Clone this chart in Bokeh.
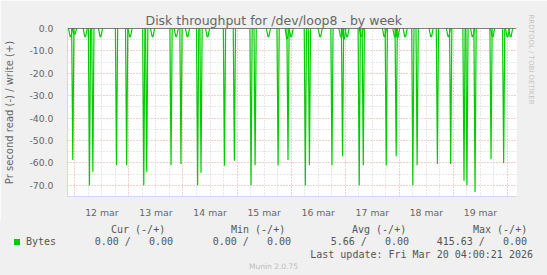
import math
from bokeh.plotting import figure
from bokeh.layouts import column
from bokeh.models import (FixedTicker, Grid, Span, PrintfTickFormatter, Range1d,
                          Title, Div)
from bokeh.embed import file_html
from bokeh.resources import INLINE

# ---------------- data (hours since 12 mar 00:00) ----------------
title = "Disk throughput for /dev/loop8 - by week"
y_label = "Pr second read (-) / write (+)"
day_labels = ["12 mar", "13 mar", "14 mar", "15 mar", "16 mar", "17 mar", "18 mar", "19 mar"]
day_label_hours = [12, 36, 60, 84, 108, 132, 156, 180]
y_ticks = [0, -10, -20, -30, -40, -50, -60, -70]
y_minor = [-5, -15, -25, -35, -45, -55, -65]

# large read spikes
spike_hours = [-0.9, 6.5, 8.0, 18.5, 23.0, 30.6, 31.9, 42.7, 47.1, 54.5, 56.0,
               66.4, 70.8, 78.2, 80.0, 90.2, 94.6, 102.3, 104.1, 114.1, 118.8,
               126.2, 128.0, 138.2, 142.6, 150.0, 151.9, 160.9, 166.8, 172.7,
               174.0, 177.6, 184.7, 190.3]
spike_values = [-58.7, -70.0, -64.0, -61.0, -61.0, -70.0, -64.0, -61.0, -60.5,
                -70.0, -64.4, -61.3, -59.0, -70.0, -61.0, -61.0, -58.7, -70.0,
                -61.0, -61.0, -57.0, -70.0, -61.0, -61.0, -57.0, -70.0, -61.0,
                -60.5, -60.5, -68.0, -70.0, -73.0, -58.4, -60.0]
# small dips
dip_hours = [-1.9, -0.1, 4.6, 11.4, 24.5, 34.5, 45.0, 50.0, 58.9, 85.9, 94.2,
             96.0, 108.9, 118.1, 119.4, 120.8, 127.1, 137.4, 142.0, 143.2,
             146.6, 158.1, 165.8, 176.5, 185.4, 192.0, 193.4]
dip_values = [-3.6, -2.5, -3.6, -3.6, -3.6, -3.6, -3.6, -3.6, -3.6, -3.6, -4.5,
              -3.6, -3.6, -3.6, -4.7, -3.6, -3.5, -3.6, -3.6, -4.0, -3.6, -3.6,
              -3.6, -3.6, -3.6, -3.6, -3.6]

legend_name = "Bytes"
col_heads = ["Cur (-/+)", "Min (-/+)", "Avg (-/+)", "Max (-/+)"]
col_vals = ["0.00 /   0.00", "0.00 /   0.00", "5.66 /   0.00", "415.63 /   0.00"]
last_update = "Last update: Fri Mar 20 04:00:21 2026"
version = "Munin 2.0.75"
watermark = "RRDTOOL / TOBI OETIKER"

# ---------------- layout ----------------
W = 547
H1 = 220
H2 = 55
FL, FR, FT, FB = 67, 517, 28, 203
X0, X1 = -3.25, 196.0
Y0, Y1 = -75.0, 0.0

FONT_COL = "#666666"
RED_GRID = "#E89A9A"
GRAY_GRID = "#CFCFCF"
AXIS_COL = "#CFD6F8"
BACK = "#F0F0F0"
GREEN = "#00CC00"

p = figure(width=W, height=H1, output_backend="svg", toolbar_location=None,
           x_range=Range1d(X0, X1), y_range=Range1d(Y0, Y1),
           min_border_left=FL, min_border_right=W - FR,
           min_border_top=FT, min_border_bottom=H1 - FB,
           background_fill_color="white", border_fill_color=BACK,
           outline_line_color=None)

# title
p.title.text = title
p.title.align = "left"
p.title.offset = 78
p.title.standoff = 2
p.title.text_font = "DejaVu Sans"
p.title.text_font_size = "12.5px"
p.title.text_font_style = "normal"
p.title.text_color = FONT_COL

# watermark on right side
p.add_layout(Title(text=watermark, align="left", offset=-14, standoff=21,
                   text_font="DejaVu Sans", text_font_size="7px",
                   text_font_style="normal", text_color="#C4C4C4"), "right")

# y axis
p.yaxis.ticker = FixedTicker(ticks=y_ticks, minor_ticks=y_minor)
p.yaxis.formatter = PrintfTickFormatter(format="%.1f")
p.yaxis.axis_line_color = AXIS_COL
p.yaxis.major_tick_line_color = None
p.yaxis.minor_tick_line_color = None
p.yaxis.major_label_standoff = 8
p.yaxis.major_label_text_font = "DejaVu Sans"
p.yaxis.major_label_text_font_size = "9.3px"
p.yaxis.major_label_text_color = FONT_COL
p.yaxis.axis_label = y_label
p.yaxis.axis_label_standoff = 11
p.yaxis.axis_label_text_font = "DejaVu Sans"
p.yaxis.axis_label_text_font_size = "10px"
p.yaxis.axis_label_text_font_style = "normal"
p.yaxis.axis_label_text_color = FONT_COL

p.ygrid.grid_line_color = RED_GRID
p.ygrid.grid_line_dash = "1 2"
p.ygrid.minor_grid_line_color = GRAY_GRID
p.ygrid.minor_grid_line_dash = "1 2"

# x axis
p.xaxis.ticker = FixedTicker(ticks=day_label_hours)
p.xaxis.major_label_overrides = {h: l for h, l in zip(day_label_hours, day_labels)}
p.xaxis.axis_line_color = AXIS_COL
p.xaxis.major_tick_line_color = None
p.xaxis.minor_tick_line_color = None
p.xaxis.major_label_standoff = 4
p.xaxis.major_label_text_font = "DejaVu Sans"
p.xaxis.major_label_text_font_size = "9.3px"
p.xaxis.major_label_text_color = FONT_COL
p.xgrid.visible = False

midnights = [24 * d for d in range(0, 9)]
six_hours = [h for h in range(0, 197, 6) if h % 24 != 0]
p.add_layout(Grid(dimension=0, ticker=FixedTicker(ticks=six_hours),
                  grid_line_color=GRAY_GRID, grid_line_dash="1 2"))
p.add_layout(Grid(dimension=0, ticker=FixedTicker(ticks=midnights),
                  grid_line_color=RED_GRID, grid_line_dash="1 2"))

# data
p.multi_line(xs=[[h - 0.5, h, h + 0.5] for h in spike_hours],
             ys=[[0, v, 0] for v in spike_values],
             line_color=GREEN, line_width=1.2)
p.multi_line(xs=[[h - 0.9, h - 0.2, h + 0.2, h + 0.9] for h in dip_hours],
             ys=[[0, v, v, 0] for v in dip_values],
             line_color=GREEN, line_width=1.2)

p.add_layout(Span(location=0, dimension="width", line_color="black", line_width=1))

# ---------------- legend area (HTML text block below the plot) ----------------
MONO = "'DejaVu Sans Mono', monospace"
LEG = "#555555"

def span(text, top, left=None, right=None, size=10, color=LEG, font=MONO, extra=""):
    pos = f"left:{left}px;" if left is not None else f"right:{right}px;"
    return (f'<span style="position:absolute;top:{top}px;{pos}white-space:pre;'
            f'font-family:{font};font-size:{size}px;line-height:12px;color:{color};{extra}">'
            f'{text}</span>')

parts = []
head_x = [111, 231, 352, 473]
for x, t in zip(head_x, col_heads):
    parts.append(span(t, 229.5 - 6 - H1, left=x))
parts.append(f'<span style="position:absolute;left:14px;top:{238.5 - H1}px;'
             f'width:6px;height:6px;background:{GREEN};"></span>')
parts.append(span(legend_name, 241.5 - 6 - H1, left=26))
val_right = [173, 291, 409, 527]
for x, t in zip(val_right, col_vals):
    parts.append(span(t, 241.5 - 6 - H1, right=W - x))
parts.append(span(last_update, 254.5 - 6 - H1, right=W - 533))
parts.append(f'<span style="position:absolute;left:0px;width:{W}px;top:{267 - 6 - H1}px;'
             f'text-align:center;font-family:\'DejaVu Sans\';font-size:7.5px;'
             f'line-height:12px;color:#BBBBBB;">{version}</span>')

html = (f'<div style="position:relative;width:{W}px;height:{H2}px;'
        f'background:{BACK};margin:0;padding:0;overflow:hidden;">' + "".join(parts) + '</div>')

div = Div(text=html, width=W, height=H2, margin=0,
          styles={"background-color": BACK, "margin": "0", "padding": "0"})

layout = column(p, div, spacing=0)
open("out.html", "w").write(file_html(layout, INLINE))
